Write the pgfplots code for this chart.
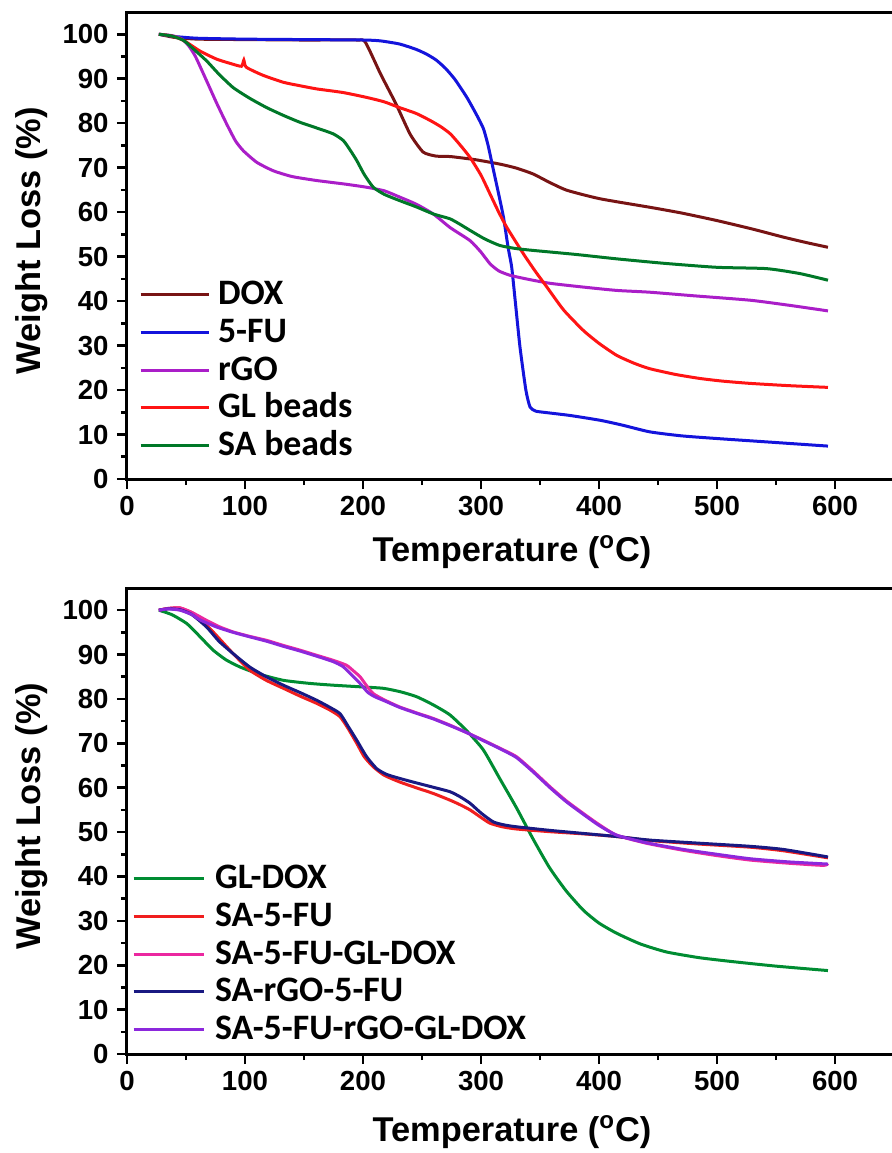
\documentclass[border=0pt]{standalone}
\usepackage{pgfplots}
\pgfplotsset{compat=1.18}
\usepackage{fontspec}
\setmainfont{Liberation Sans}
\newfontfamily\legfont{Carlito}
\definecolor{cDOX}{RGB}{120,20,20}
\definecolor{cFU}{RGB}{20,20,220}
\definecolor{cRGO}{RGB}{170,30,200}
\definecolor{cGL}{RGB}{255,20,20}
\definecolor{cSA}{RGB}{0,120,40}
\definecolor{dGLDOX}{RGB}{0,140,50}
\definecolor{dSAFU}{RGB}{240,30,30}
\definecolor{dSAFUGL}{RGB}{235,40,160}
\definecolor{dSARGO}{RGB}{25,25,130}
\definecolor{dALL}{RGB}{140,40,220}
\pgfplotsset{leglen/.initial=34pt}
\pgfplotsset{legend image code/.code={\draw[#1, line width=1.5pt] (0pt,0pt) -- (\pgfkeysvalueof{/pgfplots/leglen},0pt);}}
\pgfplotsset{
  tga/.style={
    scale only axis,
    width=385pt,
    xmin=0, xmax=652.5,
    ymin=0, ymax=105,
    xtick={0,100,...,600},
    ytick={0,10,...,100},
    minor x tick num=1,
    minor y tick num=1,
    tick align=outside,
    xtick pos=bottom, ytick pos=left,
    major tick length=5pt,
    minor tick length=3pt,
    every tick/.style={black, line width=1.3pt},
    axis line style={line width=1.5pt},
    /pgf/number format/assume math mode=true,
    ticklabel style={font=\fontsize{13.8}{15}\selectfont\bfseries},
    yticklabel style={inner sep=1pt, xshift=-3pt},
    xticklabel style={inner sep=2pt, yshift=-1.5pt},
    label style={font=\fontsize{17.2}{20}\selectfont\bfseries},
    ylabel={Weight Loss (\%)},
    xlabel={Temperature (\textsuperscript{o}C)},
    ylabel style={at={(axis description cs:-0.1117,0.51)}, anchor=base},
    legend cell align=left,
    every axis plot/.append style={line width=1.5pt, smooth, tension=0.35},
  }
}
\begin{document}
\begin{tikzpicture}
\useasboundingbox (-63.5pt,-337pt) rectangle (382pt,239.5pt);
\begin{axis}[tga, height=233.5pt, at={(0pt,0pt)}, anchor=south west,
  xlabel style={at={(axis description cs:0.5,-0.176)}, anchor=base},
  legend style={at={(axis description cs:0.0156,0.4347)}, anchor=north west,
    draw=none, fill=none, inner sep=0pt, outer sep=0pt, column sep=4pt, row sep=0pt,
    font=\fontsize{17.9}{20}\selectfont\legfont\bfseries,
    nodes={inner sep=0pt, text height=14.4pt, text depth=4.4pt}}]
\addplot[cDOX] coordinates {(27,100) (40,99.3) (60,98.9) (100,98.8) (150,98.7) (195,98.7) (202,98.2) (215,91) (228,84.3) (240,77.5) (251,73.5) (262,72.6) (274,72.5) (295,71.8) (316,70.8) (330,69.9) (344,68.6) (358,66.7) (373,64.9) (401,63) (443,61.1) (470,59.8) (500,58.1) (530,56.2) (556,54.4) (575,53.2) (594,52.1)};
\addlegendentry{DOX}
\addplot[cFU] coordinates {(27,100) (40,99.5) (60,99.1) (100,98.9) (150,98.8) (201,98.7) (215,98.5) (231,97.8) (245,96.6) (254,95.5) (262,94.2) (270,92.3) (278,89.8) (288,85.8) (296,82) (302,78.8) (306,75) (310,70.1) (315,64) (319,58.9) (323,52) (326,47.6) (329,40) (333,29.7) (338,20) (341.5,16.2) (346,15.3) (350,15.1) (375,14.3) (401,13.2) (420,12.1) (443,10.6) (470,9.7) (500,9.1) (550,8.2) (594,7.4)};
\addlegendentry{5-FU}
\addplot[cRGO] coordinates {(27,100) (38,99.7) (46,99) (52,97.5) (58,95) (67.5,89.5) (76,84.5) (84.5,79.8) (92,76) (98.6,73.8) (110,71.2) (124,69.3) (140,68) (161,67.1) (185,66.3) (203,65.6) (218,64.8) (231,63.4) (245,61.8) (259.5,59.6) (274,56.5) (290.7,53.6) (300,51) (307.6,48.4) (315,46.8) (324.6,45.8) (340,44.9) (358.5,44) (385,43.2) (415,42.4) (443,42) (480,41.2) (528,40.2) (560,39.1) (594,37.8)};
\addlegendentry{rGO}
\addplot[cGL] coordinates {(27,100) (38,99.6) (48,98.6) (62,96.2) (76,94.4) (88,93.4) (97,92.8) (99,94.2) (101,92.6) (115,90.8) (132.5,89.2) (147,88.4) (161,87.7) (183,86.9) (203,85.8) (218,84.8) (231,83.5) (245,82.2) (257,80.6) (266,79.2) (274,77.6) (282,75.2) (290.7,72.3) (300,68.3) (307.6,64.1) (315,60) (321.8,56.6) (336,50.6) (346,46.7) (355.7,43.2) (370,38) (386.7,33.4) (400,30.5) (415,27.8) (430,26) (443,24.8) (465,23.5) (485.6,22.6) (505,22) (528,21.5) (560,21) (594,20.6)};
\addlegendentry{GL beads}
\addplot[cSA] coordinates {(27,100) (38,99.6) (48,98.6) (58,96.3) (67.5,94) (78,91) (90,88) (104,85.6) (118.4,83.5) (133,81.7) (146.6,80.2) (161,78.9) (174.8,77.6) (183.3,76.1) (189,74) (194.7,71.6) (201,68.5) (208.7,65.6) (218,64) (231,62.6) (245,61.2) (259.5,59.6) (273.7,58.5) (282,57.3) (290.7,55.9) (303,54) (316,52.5) (330,51.8) (344,51.4) (380,50.5) (415,49.5) (455,48.5) (499.7,47.6) (542,47.3) (570,46.2) (594,44.7)};
\addlegendentry{SA beads}
\end{axis}
\begin{axis}[tga, height=233pt, at={(0pt,-287.5pt)}, anchor=south west,
  xlabel style={at={(axis description cs:0.5,-0.187)}, anchor=base},
  leglen=35pt,
  legend style={at={(axis description cs:0.0065,0.4163)}, anchor=north west,
    draw=none, fill=none, inner sep=0pt, outer sep=0pt, column sep=5pt, row sep=0pt,
    font=\fontsize{17.9}{20}\selectfont\legfont\bfseries,
    nodes={inner sep=0pt, text height=14.4pt, text depth=4.4pt}}]
\addplot[dGLDOX] coordinates {(27,100) (38,99) (50.6,97) (62,94) (73,91) (84,88.8) (95.8,87.2) (112,85.6) (132.5,84.2) (155,83.5) (174.8,83.1) (200,82.7) (217.2,82.4) (232,81.6) (245.5,80.5) (260,78.6) (273.7,76.4) (288,72.8) (302,68.5) (316,62) (330,55.5) (344,48.5) (358,42) (372,36.8) (386.7,32.4) (400,29.5) (415,27.2) (435,24.8) (457,23) (485,21.7) (513.8,20.8) (550,19.8) (594,18.8)};
\addlegendentry{GL-DOX}
\addplot[dSAFU] coordinates {(27,100) (35,100.4) (45,100.5) (56,99.3) (64,97.5) (73,95.1) (82,92.5) (90,90.2) (104,86.5) (118,84.2) (132.5,82.4) (147,80.6) (160.8,79) (172,77.5) (180.5,76) (187,73.5) (194.7,70) (201,67) (208.7,64.7) (218,62.8) (231,61.3) (245,60) (259.6,58.7) (273.7,57.2) (282,56.2) (290.7,55) (300,53.3) (307.6,52) (318,51.2) (330,50.7) (358,50.1) (386.7,49.6) (415,49) (443,48.1) (485,47.3) (528,46.6) (556,45.8) (594,44.2)};
\addlegendentry{SA-5-FU}
\addplot[dSAFUGL] coordinates {(27,100) (35,100.4) (45,100.5) (55,99.5) (67.5,97.7) (78,96.3) (90,95.1) (104,94.1) (118.4,93.2) (132,92.1) (146.6,91) (160,89.9) (174.8,88.7) (186,87.6) (192,86.3) (197.5,85) (203,83) (208.7,81.2) (218,79.8) (231,78.2) (245,76.9) (259.6,75.6) (273.7,74.1) (288,72.4) (302,70.7) (316,68.9) (330,67) (344,63.8) (358.5,60.2) (372,57.1) (386.7,54.2) (400,51.7) (415,49.3) (440,47.5) (471.4,45.9) (500,44.7) (528,43.7) (560,43) (590,42.5) (594,42.9)};
\addlegendentry{SA-5-FU-GL-DOX}
\addplot[dSARGO] coordinates {(27,100) (35,100.3) (45,100.1) (55,99) (67.5,96.2) (78,93) (90,90.2) (104,87.2) (118,85) (132.5,83.1) (147,81.4) (160.8,79.7) (172,78.1) (180.5,76.7) (187,74) (194.7,70.7) (203,67) (211.6,64.3) (220,63) (231,62.1) (245,61.1) (259.6,60.1) (273.7,59.1) (282,58) (290.7,56.5) (300,54.3) (310.4,52.3) (320,51.6) (330,51.2) (358,50.4) (386.7,49.7) (415,49) (443,48.2) (485,47.5) (528,46.8) (556,46.1) (594,44.4)};
\addlegendentry{SA-rGO-5-FU}
\addplot[dALL] coordinates {(27,100) (35,100.3) (45,100) (55,99) (62,97.8) (76,96.2) (90,95) (104,94) (118.4,93) (132,91.9) (146.6,90.8) (160,89.7) (174.8,88.4) (183,87.3) (190,85.5) (197.5,83.5) (204,81.5) (210,80.5) (218,79.6) (231,78.1) (245,76.8) (259.6,75.5) (273.7,74) (288,72.4) (302,70.6) (316,68.8) (330,66.8) (344,63.6) (358.5,60) (372,56.9) (386.7,54) (400,51.5) (415,49.3) (440,47.6) (471.4,46.1) (500,45) (528,44) (560,43.3) (594,42.8)};
\addlegendentry{SA-5-FU-rGO-GL-DOX}
\end{axis}
\end{tikzpicture}
\end{document}
